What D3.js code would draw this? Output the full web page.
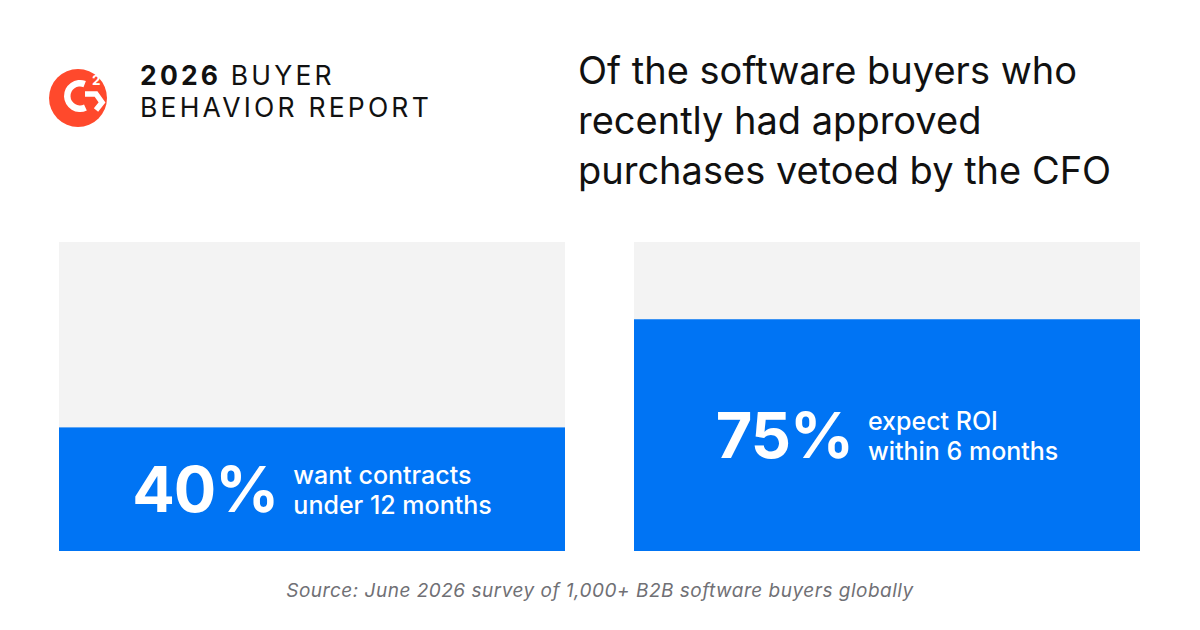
<!DOCTYPE html>
<html>
<head>
<meta charset="utf-8">
<script src="https://cdn.jsdelivr.net/npm/d3@7"></script>
<style>
  html, body { margin: 0; padding: 0; background: #ffffff; }
  svg { display: block; }
</style>
</head>
<body>
<svg id="chart" width="1200" height="630"></svg>
<script>
// ---- data ----
const categories = ["contracts", "roi"];
const values = [40, 75];
const valueLabels = ["40%", "75%"];
const descLine1 = ["want contracts", "expect ROI"];
const descLine2 = ["under 12 months", "within 6 months"];
const headingLines = ["Of the software buyers who", "recently had approved", "purchases vetoed by the CFO"];
const brandBold = "2026";
const brandLine1 = "BUYER";
const brandLine2 = "BEHAVIOR REPORT";
const sourceText = "Source: June 2026 survey of 1,000+ B2B software buyers globally";

// ---- setup ----
const svg = d3.select("#chart");
const font = "Inter, 'Noto Sans', sans-serif";
const blue = "#0074F4";
const track = "#F3F3F3";

const x = d3.scaleBand().domain(categories).range([59, 1140]).paddingInner(0.12).paddingOuter(0);
const y = d3.scaleLinear().domain([0, 100]).range([551, 242]);

// ---- logo ----
svg.append("circle").attr("cx", 78).attr("cy", 98).attr("r", 29).attr("fill", "#FF492C");
svg.append("path")
  .attr("transform", "translate(80,96)")
  .attr("d", d3.arc().innerRadius(9.5).outerRadius(16).startAngle(Math.PI * 0.86).endAngle(Math.PI * 2.12)())
  .attr("fill", "#fff");
svg.append("polyline")
  .attr("points", "85,94 96,94 102,102.5 96,110")
  .attr("fill", "none").attr("stroke", "#fff").attr("stroke-width", 5.5)
  .attr("stroke-linejoin", "miter");
svg.append("text").attr("x", 92).attr("y", 85).attr("font-family", font).attr("font-weight", 700)
  .attr("font-size", 13.5).attr("fill", "#fff").text("2");

// ---- brand title ----
const brand = svg.append("g").attr("font-family", font).attr("font-size", 26.5).attr("fill", "#111")
  .attr("letter-spacing", "3.2px");
const b1 = brand.append("text").attr("x", 140).attr("y", 85);
b1.append("tspan").attr("font-weight", 700).text(brandBold + " ");
b1.append("tspan").attr("font-weight", 400).text(brandLine1);
brand.append("text").attr("x", 140).attr("y", 117).attr("font-weight", 400).text(brandLine2);

// ---- heading ----
svg.append("g").selectAll("text").data(headingLines).join("text")
  .attr("x", 578).attr("y", (d, i) => 84 + i * 50)
  .attr("font-family", font).attr("font-size", 38).attr("fill", "#111")
  .text(d => d);

// ---- bars ----
const data = categories.map((c, i) => ({ c, v: values[i], lab: valueLabels[i], d1: descLine1[i], d2: descLine2[i] }));

svg.append("g").selectAll("rect").data(data).join("rect")
  .attr("x", d => x(d.c)).attr("width", x.bandwidth())
  .attr("y", y(100)).attr("height", y(0) - y(100))
  .attr("fill", track);

svg.append("g").selectAll("rect").data(data).join("rect")
  .attr("x", d => x(d.c)).attr("width", x.bandwidth())
  .attr("y", d => y(d.v)).attr("height", d => y(0) - y(d.v))
  .attr("fill", blue);

// ---- labels ----
data.forEach(d => {
  const g = svg.append("g");
  const num = g.append("text").attr("font-family", font).attr("font-weight", 700)
    .attr("font-size", 63).attr("letter-spacing", "-1px").attr("fill", "#fff").text(d.lab);
  const t1 = g.append("text").attr("font-family", font).attr("font-weight", 500)
    .attr("font-size", 25).attr("fill", "#fff").text(d.d1);
  const t2 = g.append("text").attr("font-family", font).attr("font-weight", 500)
    .attr("font-size", 25).attr("fill", "#fff").text(d.d2);
  const nw = num.node().getComputedTextLength();
  const tw = Math.max(t1.node().getComputedTextLength(), t2.node().getComputedTextLength());
  const gap = 15;
  const total = nw + gap + tw;
  const cx = x(d.c) + x.bandwidth() / 2;
  const cy = (y(d.v) + y(0)) / 2;
  const left = cx - total / 2;
  num.attr("x", left).attr("y", cy + 23);
  t1.attr("x", left + nw + gap).attr("y", cy - 5);
  t2.attr("x", left + nw + gap).attr("y", cy + 25);
});

// ---- source ----
svg.append("text").attr("x", 600).attr("y", 597).attr("text-anchor", "middle")
  .attr("font-family", font).attr("font-style", "italic").attr("font-size", 19)
  .attr("letter-spacing", "0.5px")
  .attr("fill", "#707075").text(sourceText);
</script>
</body>
</html>
